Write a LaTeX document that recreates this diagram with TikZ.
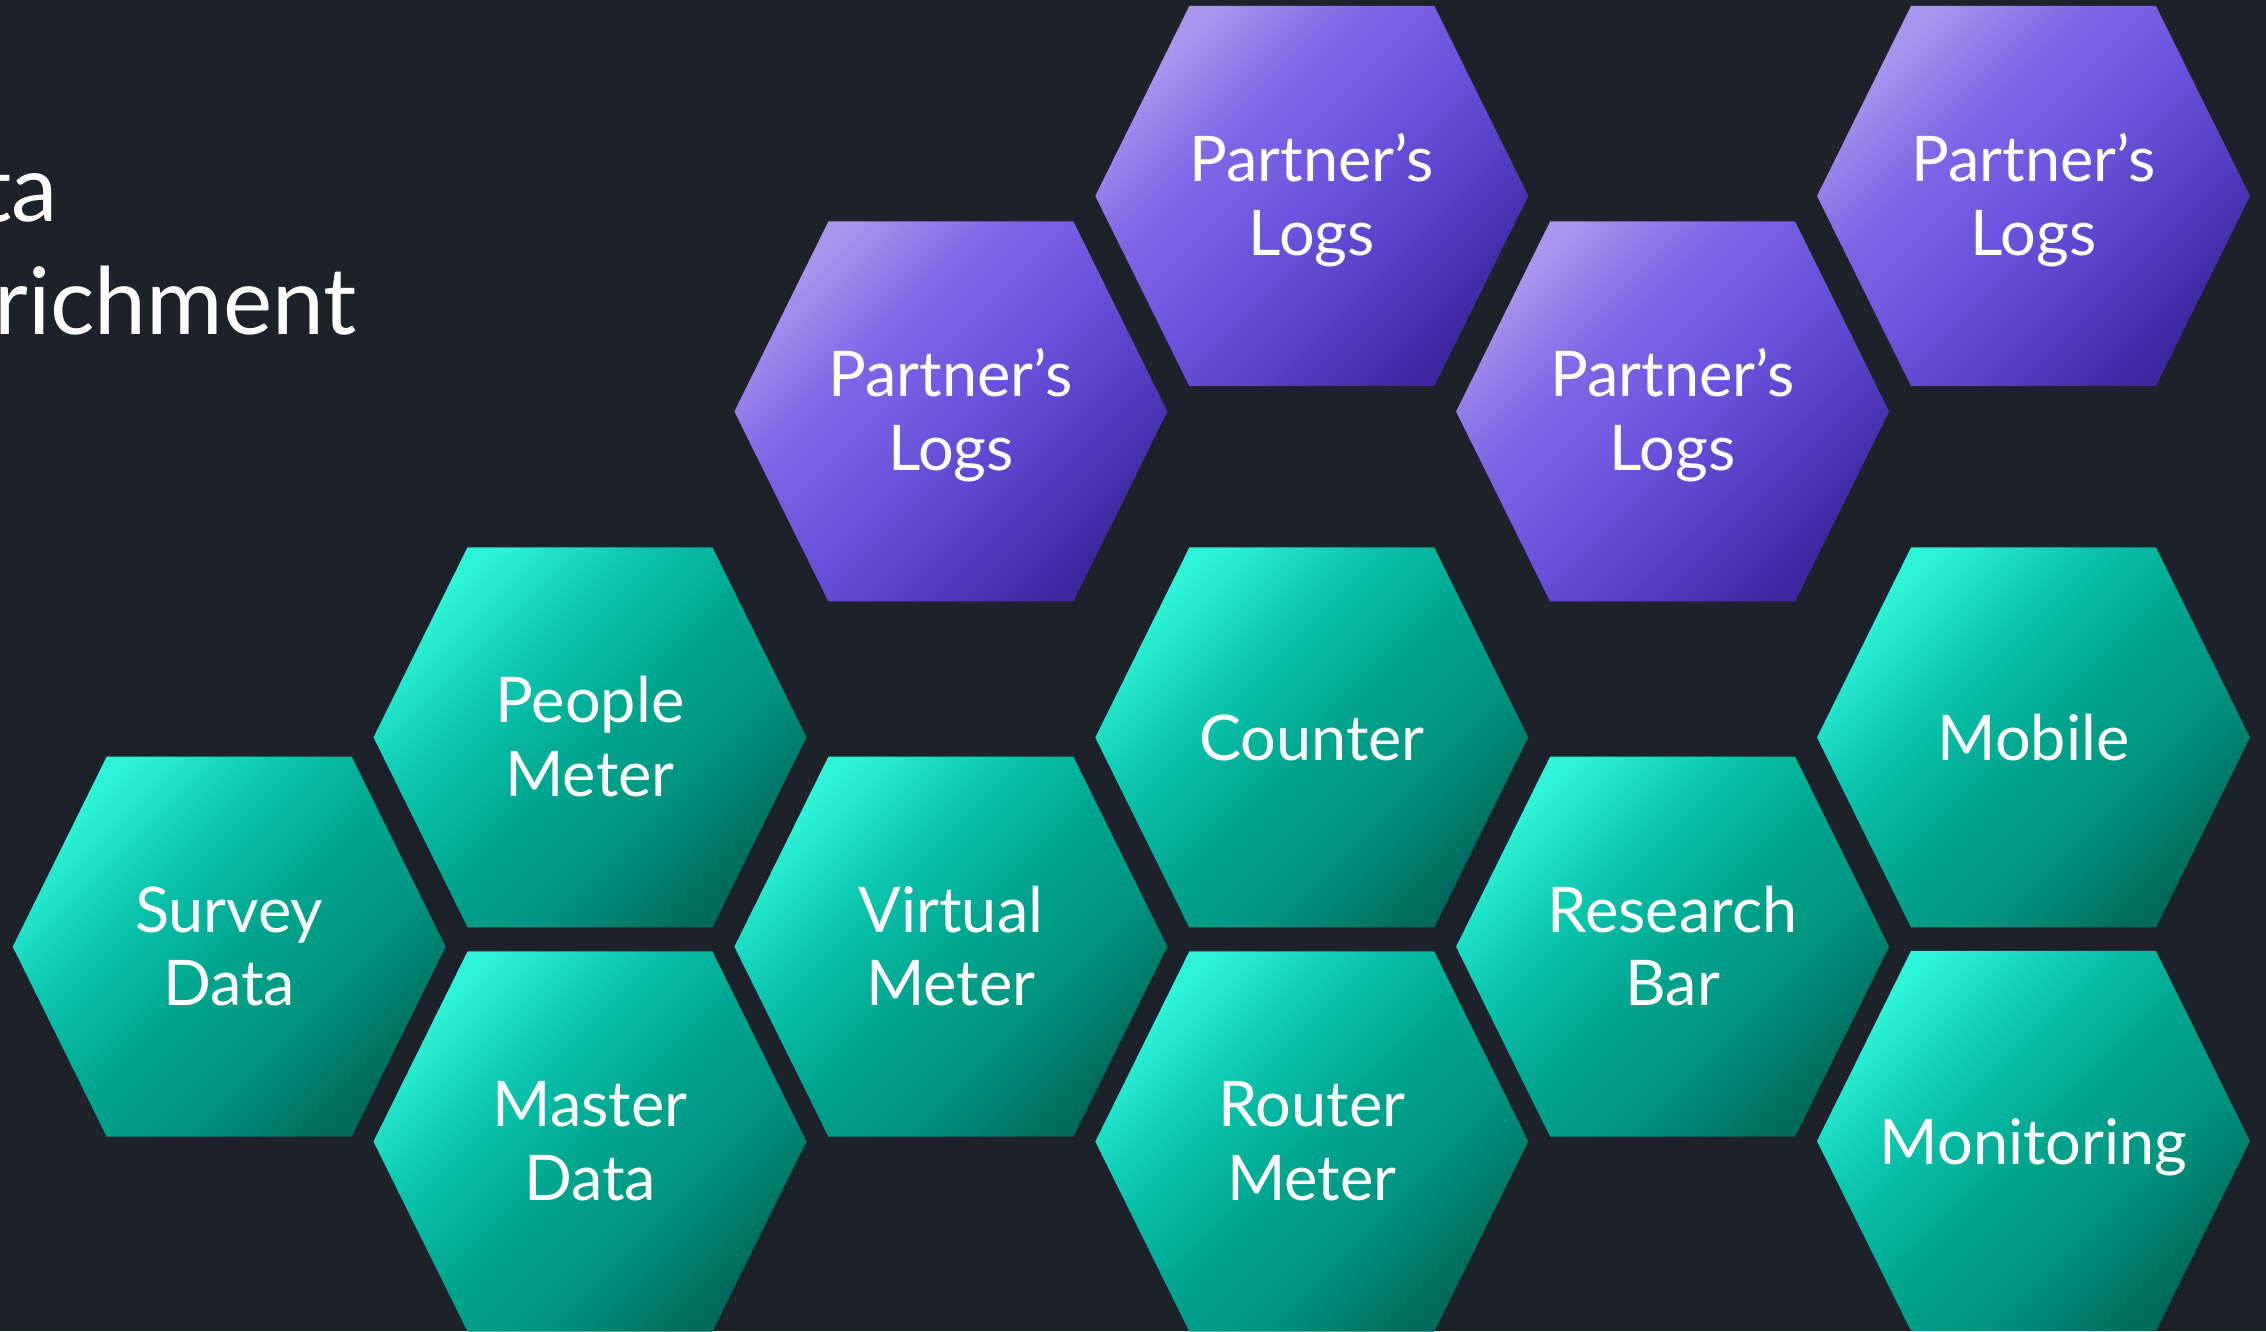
\documentclass[tikz,border=0pt]{standalone}
\usepackage{fontspec}
\setmainfont{Lato}
\definecolor{bgc}{HTML}{1C212A}
\definecolor{gA}{HTML}{2EF5DA}
\definecolor{gB}{HTML}{0CC6AE}
\definecolor{gC}{HTML}{00A68F}
\definecolor{gD}{HTML}{009480}
\definecolor{gE}{HTML}{006B5C}
\definecolor{pA}{HTML}{A896EE}
\definecolor{pB}{HTML}{7F66E6}
\definecolor{pC}{HTML}{6D54DE}
\definecolor{pD}{HTML}{573FC6}
\definecolor{pE}{HTML}{3D269E}
\pgfdeclarehorizontalshading{tealgrad}{100bp}{color(0bp)=(gA); color(25bp)=(gA); color(38bp)=(gB); color(50bp)=(gC); color(62bp)=(gD); color(75bp)=(gE); color(100bp)=(gE)}
\pgfdeclarehorizontalshading{violetgrad}{100bp}{color(0bp)=(pA); color(25bp)=(pA); color(38bp)=(pB); color(50bp)=(pC); color(62bp)=(pD); color(75bp)=(pE); color(100bp)=(pE)}
\tikzset{
  hexlabel/.style={text=white, inner sep=0pt, anchor=base, font=\fontsize{63}{74}\selectfont},
  titletext/.style={text=white, inner sep=0pt, anchor=base east, font=\fontsize{93}{112}\selectfont},
}
\newcommand\hexbg[3]{%
  \shade[shading=#3, shading angle=-45]
    ({#1-216.5},{1331-#2}) -- ({#1-122.5},{1331-#2+190}) -- ({#1+122.5},{1331-#2+190}) --
    ({#1+216.5},{1331-#2}) -- ({#1+122.5},{1331-#2-190}) -- ({#1-122.5},{1331-#2-190}) -- cycle;}
\newcommand\hextwo[5]{%
  \node[hexlabel] (#1a) at (#2,{1331-#3+14.6}) {#4};
  \node[hexlabel] (#1b) at (#2,{1331-#3-59.2}) {#5};}
\newcommand\hexone[4]{%
  \node[hexlabel] (#1) at (#2,{1331-#3-23}) {#4};}
\begin{document}
\begin{tikzpicture}[x=1pt,y=1pt]
\useasboundingbox (0,0) rectangle (2266,1331);
\clip (0,0) rectangle (2266,1331);
\fill[bgc] (0,0) rectangle (2266,1331);

% title
\node[titletext] (title1) at (58,1109.3) {Data};
\node[titletext] (title2) at (357,996) {Enrichment};

% purple hexagons
\hexbg{1311.8}{196}{violetgrad}
\hexbg{950.9}{411.5}{violetgrad}
\hexbg{1672.6}{411.5}{violetgrad}
\hexbg{2033.5}{196}{violetgrad}
\hextwo{plA}{1311.8}{196}{Partner’s}{Logs}
\hextwo{plB}{950.9}{411.5}{Partner’s}{Logs}
\hextwo{plC}{1672.6}{411.5}{Partner’s}{Logs}
\hextwo{plD}{2033.5}{196}{Partner’s}{Logs}

% green hexagons
\hexbg{229.2}{946.7}{tealgrad}
\hexbg{590}{737.3}{tealgrad}
\hexbg{590}{1141.5}{tealgrad}
\hexbg{950.9}{946.7}{tealgrad}
\hexbg{1311.8}{737.5}{tealgrad}
\hexbg{1311.8}{1141.5}{tealgrad}
\hexbg{1672.6}{946.7}{tealgrad}
\hexbg{2033.5}{737.5}{tealgrad}
\hexbg{2033.5}{1141}{tealgrad}

\hextwo{survey}{229.2}{946.7}{Survey}{Data}
\hextwo{people}{590}{737.3}{People}{Meter}
\hextwo{master}{590}{1141.5}{Master}{Data}
\hextwo{virtual}{950.9}{946.7}{Virtual}{Meter}
\hexone{counter}{1311.8}{737.5}{Counter}
\hextwo{router}{1311.8}{1141.5}{Router}{Meter}
\hextwo{research}{1672.6}{946.7}{Research}{Bar}
\hexone{mobile}{2033.5}{737.5}{Mobile}
\hexone{monitoring}{2033.5}{1141}{Monitoring}
\end{tikzpicture}
\end{document}
